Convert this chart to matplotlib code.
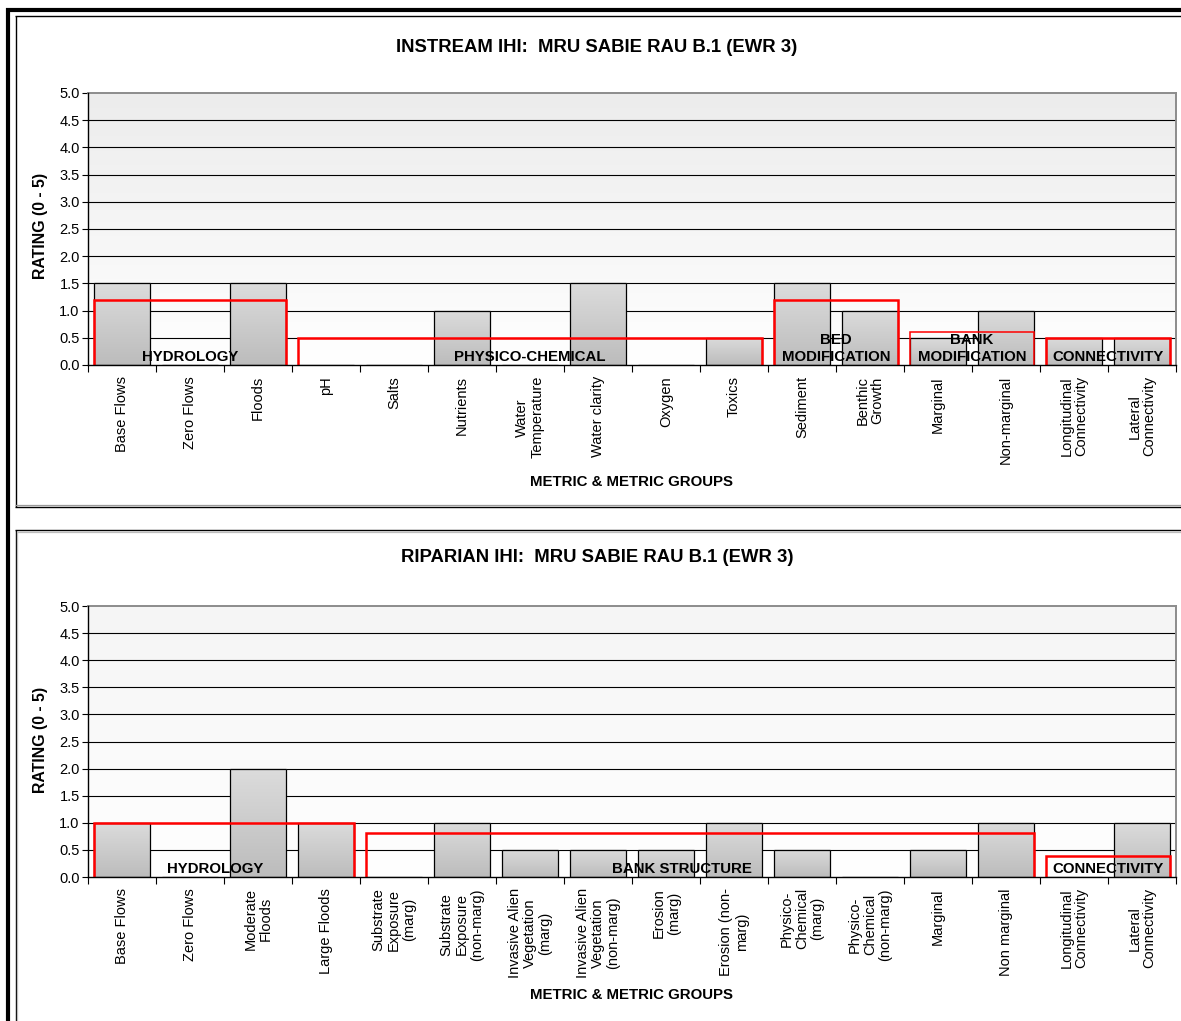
import numpy as np
import matplotlib
matplotlib.use("Agg")
import matplotlib.pyplot as plt
from matplotlib.colors import LinearSegmentedColormap
from matplotlib.lines import Line2D

plt.rcParams['font.family'] = ['Liberation Sans', 'DejaVu Sans']

# ---------------- data ----------------
instream_metrics = ["Base Flows", "Zero Flows", "Floods", "pH", "Salts", "Nutrients",
                    "Water\nTemperature", "Water clarity", "Oxygen", "Toxics", "Sediment",
                    "Benthic\nGrowth", "Marginal", "Non-marginal",
                    "Longitudinal\nConnectivity", "Lateral\nConnectivity"]
instream_ratings = [1.5, 0.0, 1.5, 0.0, 0.0, 1.0, 0.0, 1.5, 0.0, 0.5,
                    1.5, 1.0, 0.5, 1.0, 0.5, 0.5]
instream_groups = ["HYDROLOGY", "PHYSICO-CHEMICAL", "BED\nMODIFICATION",
                   "BANK\nMODIFICATION", "CONNECTIVITY"]
instream_group_first = [0, 3, 10, 12, 14]
instream_group_last = [2, 9, 11, 13, 15]
instream_group_ratings = [1.2, 0.5, 1.2, 0.6, 0.5]

riparian_metrics = ["Base Flows", "Zero Flows", "Moderate\nFloods", "Large Floods",
                    "Substrate\nExposure\n(marg)", "Substrate\nExposure\n(non-marg)",
                    "Invasive Alien\nVegetation\n(marg)", "Invasive Alien\nVegetation\n(non-marg)",
                    "Erosion\n(marg)", "Erosion (non-\nmarg)", "Physico-\nChemical\n(marg)",
                    "Physico-\nChemical\n(non-marg)", "Marginal", "Non marginal",
                    "Longitudinal\nConnectivity", "Lateral\nConnectivity"]
riparian_ratings = [1.0, 0.0, 2.0, 1.0, 0.0, 1.0, 0.5, 0.5, 0.5, 1.0,
                    0.5, 0.0, 0.5, 1.0, 0.0, 1.0]
riparian_groups = ["HYDROLOGY", "BANK STRUCTURE", "CONNECTIVITY"]
riparian_group_first = [0, 4, 14]
riparian_group_last = [3, 13, 15]
riparian_group_ratings = [1.0, 0.82, 0.38]

y_ticks = [0.0, 0.5, 1.0, 1.5, 2.0, 2.5, 3.0, 3.5, 4.0, 4.5, 5.0]

# ---------------- layout helpers ----------------
W, H = 1181, 1021
fig = plt.figure(figsize=(W / 100, H / 100), dpi=100)
fig.patch.set_facecolor('white')


def fx(x):
    return x / W


def fy(y):
    return 1 - y / H


def hline(x0, x1, y, lw, color):
    fig.add_artist(Line2D([fx(x0), fx(x1)], [fy(y), fy(y)], lw=lw, color=color,
                          solid_capstyle='butt'))


def vline(x, y0, y1, lw, color):
    fig.add_artist(Line2D([fx(x), fx(x)], [fy(y0), fy(y1)], lw=lw, color=color,
                          solid_capstyle='butt'))


BAR_W = 0.83
bar_cmap = LinearSegmentedColormap.from_list('bar', ['#bcbcbc', '#dcdcdc'])


def draw_panel(ax, title, title_y, xlabel_y, metrics, ratings, groups, first, last,
               group_ratings, label_shift, group_lw, bg_top):
    n = len(metrics)
    x = np.arange(n)
    xmin, xmax = -0.5, n - 0.5

    # plot-area background: soft grey fading to white
    bg = np.linspace(0, 1, 256).reshape(-1, 1)
    ax.imshow(bg, extent=(xmin, xmax, 0, 5), origin='lower', aspect='auto',
              cmap=LinearSegmentedColormap.from_list('bg', ['#ffffff', bg_top]),
              zorder=0, interpolation='bilinear')

    for yv in y_ticks[1:-1]:
        ax.axhline(yv, color='black', lw=0.8, zorder=1)

    # metric bars with a vertical grey gradient (light top, darker base)
    bars = ax.bar(x, ratings, width=BAR_W, color='none', edgecolor='black',
                  lw=0.9, zorder=3)
    grad = np.linspace(0, 1, 128).reshape(-1, 1)
    for b, r in zip(bars, ratings):
        if r <= 0:
            continue
        x0 = b.get_x()
        im = ax.imshow(grad, extent=(x0, x0 + b.get_width(), 0, r), origin='lower',
                       aspect='auto', cmap=bar_cmap, zorder=2.5,
                       interpolation='bilinear')
        im.set_clip_path(b)

    # metric group outlines
    for g, (i0, i1, gr) in enumerate(zip(first, last, group_ratings)):
        left = i0 - BAR_W / 2
        right = i1 + BAR_W / 2
        ax.plot([left, left, right, right], [0, gr, gr, 0], color='#ff0000',
                lw=group_lw[g], zorder=4, solid_joinstyle='miter')
        cx = (i0 + i1) / 2 + label_shift[g]
        ax.text(cx, 0.02, groups[g], ha='center', va='bottom', fontsize=10.8,
                fontweight='bold', zorder=5, linespacing=1.3)

    ax.set_xlim(xmin, xmax)
    ax.set_ylim(0, 5)
    ax.set_yticks(y_ticks)
    ax.set_yticklabels([f"{v:.1f}" for v in y_ticks], fontsize=10.5)
    ax.tick_params(axis='y', direction='out', length=4, width=0.8, pad=2)
    ax.set_xticks(x)
    ax.set_xticklabels(metrics, rotation=90, fontsize=10.5, linespacing=1.12)
    ax.set_xticks(np.arange(n + 1) - 0.5, minor=True)
    ax.tick_params(axis='x', which='major', length=0, pad=8)
    ax.tick_params(axis='x', which='minor', direction='out', length=5, width=0.8)

    for side in ('left', 'bottom'):
        ax.spines[side].set_color('black')
        ax.spines[side].set_linewidth(1.0)
        ax.spines[side].set_zorder(6)
    for side in ('top', 'right'):
        ax.spines[side].set_color('#8c8c8c')
        ax.spines[side].set_linewidth(1.4)

    fig.text(fx(597), fy(title_y), title, ha='center', va='center', fontsize=13.3,
             fontweight='bold')
    fig.text(fx(632), fy(xlabel_y), "METRIC & METRIC GROUPS", ha='center',
             va='center', fontsize=10.8, fontweight='bold')


# axes placement (plot areas)
left_px, right_px = 88, 1176
ax1 = fig.add_axes([fx(left_px), fy(365), fx(right_px - left_px), (365 - 93) / H])
ax2 = fig.add_axes([fx(left_px), fy(877), fx(right_px - left_px), (877 - 606) / H])

draw_panel(ax1, "INSTREAM IHI:  MRU SABIE RAU B.1 (EWR 3)", 47, 482,
           instream_metrics, instream_ratings, instream_groups,
           instream_group_first, instream_group_last, instream_group_ratings,
           label_shift=[0, 0, 0, 0, 0], group_lw=[1.8, 1.8, 1.8, 1.1, 1.8],
           bg_top='#ececec')
draw_panel(ax2, "RIPARIAN IHI:  MRU SABIE RAU B.1 (EWR 3)", 557, 995,
           riparian_metrics, riparian_ratings, riparian_groups,
           riparian_group_first, riparian_group_last, riparian_group_ratings,
           label_shift=[-0.13, -0.26, 0], group_lw=[1.8, 1.8, 1.8],
           bg_top='#f5f5f5')

for ax, yc in ((ax1, 226), (ax2, 740)):
    fig.text(fx(40), fy(yc), "RATING (0 - 5)", rotation=90, ha='center', va='center',
             fontsize=11.4, fontweight='bold')

# panel frames
hline(15, W, 16.5, 1.0, 'black')
vline(15.5, 16, 507.5, 1.0, 'black')
hline(15, W, 505.5, 0.9, '#9a9a9a')
hline(15, W, 507.5, 1.0, 'black')
hline(15, W, 530, 1.0, 'black')
hline(16, W, 531.5, 0.9, '#bdbdbd')
vline(15.5, 530, H, 1.0, 'black')
vline(16.8, 531, H, 0.9, '#bdbdbd')

# outer heavy border
hline(6, W, 10, 3.0, 'black')
vline(8, 8.5, H, 3.0, 'black')

fig.savefig("out.png", dpi=100)
